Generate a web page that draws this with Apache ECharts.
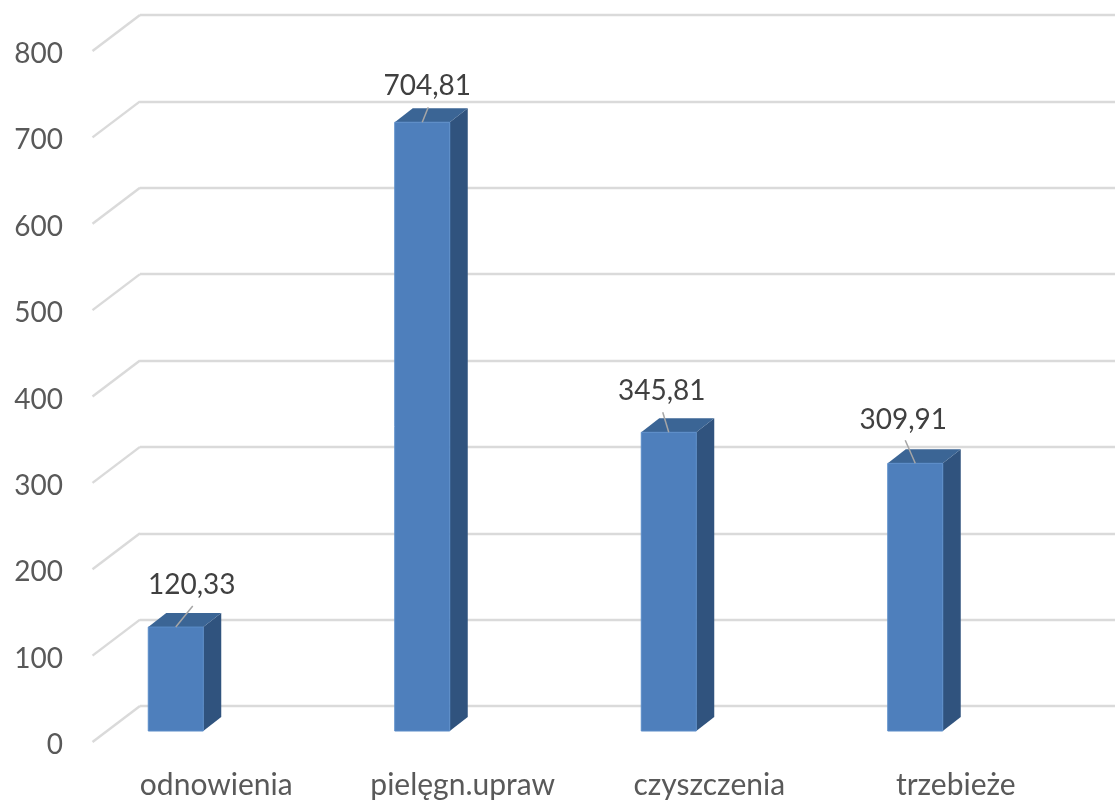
<!DOCTYPE html>
<html>
<head>
<meta charset="utf-8">
<style>html,body{margin:0;padding:0;background:#fff}#c{width:1115px;height:803px}</style>
<script src="https://cdn.jsdelivr.net/npm/echarts@6/dist/echarts.min.js"></script>
</head>
<body>
<div id="c"></div>
<script>
var categories = ["odnowienia", "pielęgn.upraw", "czyszczenia", "trzebieże"];
var values = [120.33, 704.81, 345.81, 309.91];
var yTicks = [0, 100, 200, 300, 400, 500, 600, 700, 800];

// Label placement relative to each bar's front-top centre: [dx, dy] for leader end / text
var labelLeader = [[17, -21], [6, -15], [-6, -20], [-10, -23]];
var labelText = [[16, -42], [5, -36], [-7, -41], [-12, -43]];

var FONT = "Lato, 'Open Sans', sans-serif";
var BAR_W = 55, DEPTH_X = 18, DEPTH_Y = 14, SIDE_DY = 36;

function fmt(v) { return v.toFixed(2).replace('.', ','); }

function renderBar(params, api) {
  var i = api.value(0), v = api.value(1);
  var top = api.coord([i, v]), base = api.coord([i, 0]);
  var l = top[0] - BAR_W / 2, r = l + BAR_W, t = top[1], b = base[1];
  var lead = labelLeader[i], txt = labelText[i];
  return {
    type: 'group',
    children: [
      { type: 'polygon', shape: { points: [[r, t], [r + DEPTH_X, t - DEPTH_Y], [r + DEPTH_X, b - DEPTH_Y], [r, b]] },
        style: { fill: '#30537e' } },
      { type: 'polygon', shape: { points: [[l, t], [l + DEPTH_X, t - DEPTH_Y], [r + DEPTH_X, t - DEPTH_Y], [r, t]] },
        style: { fill: '#3b6595' } },
      { type: 'rect', shape: { x: l, y: t, width: BAR_W, height: b - t },
        style: { fill: '#4e7fbc', stroke: '#5a8cc8', lineWidth: 1 } },
      { type: 'line', shape: { x1: top[0], y1: t, x2: top[0] + lead[0], y2: t + lead[1] },
        style: { stroke: '#a6a6a6', lineWidth: 1.5 } },
      { type: 'text', x: top[0] + txt[0], y: t + txt[1],
        style: { text: fmt(v), fill: '#404040', font: '28px ' + FONT, align: 'center', verticalAlign: 'middle' } }
    ]
  };
}

function renderSide(params, api) {
  var v = api.value(0);
  var a = api.coord([0, v]), e = api.coord([1, v]);
  return { type: 'line', shape: { x1: a[0], y1: a[1], x2: e[0], y2: e[1] - SIDE_DY },
    style: { stroke: '#dadada', lineWidth: 2.4 } };
}

var chart = echarts.init(document.getElementById('c'), null, { renderer: 'canvas' });
chart.setOption({
  animation: false,
  backgroundColor: '#ffffff',
  grid: [
    { left: 52.5, width: 986, top: 40, height: 691 },
    { left: 140, width: 975, top: 15, height: 691 },
    { left: 92.5, width: 47.5, top: 51, height: 691 },
    { left: 93, width: 986, top: 54, height: 691 }
  ],
  xAxis: [
    { type: 'category', gridIndex: 0, data: categories, show: false },
    { type: 'value', gridIndex: 1, min: 0, max: 1, show: false },
    { type: 'value', gridIndex: 2, min: 0, max: 1, show: false },
    { type: 'category', gridIndex: 3, data: categories,
      axisLine: { show: false }, axisTick: { show: false },
      axisLabel: { color: '#595959', fontFamily: FONT, fontSize: 30, margin: 25, interval: 0 } }
  ],
  yAxis: [
    { type: 'value', gridIndex: 0, min: 0, max: 800, interval: 100, show: false },
    { type: 'value', gridIndex: 1, min: 0, max: 800, interval: 100,
      axisLine: { show: false }, axisTick: { show: false }, axisLabel: { show: false },
      splitLine: { show: true, lineStyle: { color: '#dadada', width: 2.4 } } },
    { type: 'value', gridIndex: 2, min: 0, max: 800, interval: 100, show: false },
    { type: 'value', gridIndex: 3, min: 0, max: 800, interval: 100,
      axisLine: { show: false }, axisTick: { show: false }, splitLine: { show: false },
      axisLabel: { color: '#595959', fontFamily: FONT, fontSize: 28, margin: 30, align: 'right' } }
  ],
  series: [
    { type: 'custom', xAxisIndex: 2, yAxisIndex: 2, z: 1, silent: true, clip: false,
      renderItem: renderSide, encode: { y: 0 }, data: yTicks.map(function (t) { return [t]; }) },
    { type: 'custom', xAxisIndex: 0, yAxisIndex: 0, z: 3, silent: true, clip: false,
      renderItem: renderBar, encode: { x: 0, y: 1 },
      data: values.map(function (v, i) { return [i, v]; }) }
  ]
});
</script>
</body>
</html>
